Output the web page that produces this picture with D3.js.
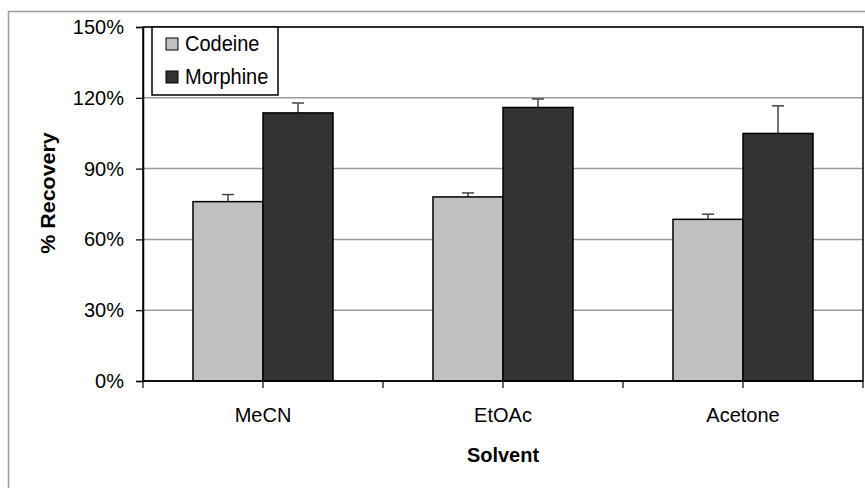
<!DOCTYPE html>
<html>
<head>
<meta charset="utf-8">
<script src="https://cdn.jsdelivr.net/npm/d3@7"></script>
<style>
  html, body { margin: 0; padding: 0; background: #fff; }
  svg { display: block; font-family: "Liberation Sans", Arial, sans-serif; }
</style>
</head>
<body>
<svg id="chart" width="865" height="488"></svg>
<script>
const categories = ["MeCN", "EtOAc", "Acetone"];
const seriesNames = ["Codeine", "Morphine"];
const codeine = [0.76, 0.78, 0.685];
const morphine = [1.136, 1.159, 1.049];
const codeineErr = [0.03, 0.017, 0.022];
const morphineErr = [0.042, 0.036, 0.117];
const yTicks = [0, 0.3, 0.6, 0.9, 1.2, 1.5];
const colors = ["#c0c0c0", "#333333"];

const svg = d3.select("#chart");
const W = 865, H = 488;
const plot = { left: 143, right: 863, top: 27, bottom: 381 };

// outer chart border
svg.append("rect").attr("x", 8.5).attr("y", 11.5).attr("width", W).attr("height", H)
  .attr("fill", "none").attr("stroke", "#9a9a9a").attr("stroke-width", 1.5);

const y = d3.scaleLinear().domain([0, 1.5]).range([plot.bottom, plot.top]);
const x0 = d3.scaleBand().domain(categories).range([plot.left, plot.right]).padding(0);
const x1 = d3.scaleBand().domain(seriesNames).range([0, x0.bandwidth()])
  .paddingInner(0).paddingOuter(0.714);

// gridlines
svg.append("g").selectAll("line").data(yTicks.filter(d => d > 0)).join("line")
  .attr("x1", plot.left).attr("x2", plot.right)
  .attr("y1", d => y(d)).attr("y2", d => y(d))
  .attr("stroke", "#9a9a9a").attr("stroke-width", 1.5);

// plot border (top/right)
svg.append("rect").attr("x", plot.left).attr("y", plot.top)
  .attr("width", plot.right - plot.left).attr("height", plot.bottom - plot.top)
  .attr("fill", "none").attr("stroke", "#000").attr("stroke-width", 1.5);

const data = categories.map((c, i) => ({
  cat: c,
  vals: [
    { s: "Codeine", v: codeine[i], e: codeineErr[i] },
    { s: "Morphine", v: morphine[i], e: morphineErr[i] }
  ]
}));

const groups = svg.append("g").selectAll("g").data(data).join("g")
  .attr("transform", d => `translate(${x0(d.cat)},0)`);

// error bars (upper only)
groups.selectAll("g.err").data(d => d.vals).join("g").attr("class", "err").each(function(d) {
  const g = d3.select(this);
  const cx = x1(d.s) + x1.bandwidth() / 2;
  g.append("line").attr("x1", cx).attr("x2", cx).attr("y1", y(d.v)).attr("y2", y(d.v + d.e))
    .attr("stroke", "#444").attr("stroke-width", 1.5);
  g.append("line").attr("x1", cx - 6).attr("x2", cx + 6).attr("y1", y(d.v + d.e)).attr("y2", y(d.v + d.e))
    .attr("stroke", "#444").attr("stroke-width", 1.5);
});

groups.selectAll("rect").data(d => d.vals).join("rect")
  .attr("x", d => x1(d.s)).attr("width", x1.bandwidth())
  .attr("y", d => y(d.v)).attr("height", d => y(0) - y(d.v))
  .attr("fill", (d, i) => colors[i]).attr("stroke", "#000").attr("stroke-width", 1.5);

// y axis
const yAxis = d3.axisLeft(y).tickValues(yTicks).tickFormat(d3.format(".0%")).tickSizeOuter(0).tickSize(7).tickPadding(12);
const ga = svg.append("g").attr("transform", `translate(${plot.left},0)`).call(yAxis);
ga.select(".domain").attr("stroke", "#000").attr("stroke-width", 1.5);
ga.selectAll(".tick line").attr("stroke", "#000").attr("stroke-width", 1.2);
ga.selectAll(".tick text").attr("font-size", 20).attr("fill", "#000")
  .attr("font-family", "'Liberation Sans', Arial, sans-serif");

// x axis baseline and ticks
const xt = d3.scaleLinear().domain([0, categories.length]).range([plot.left, plot.right]);
svg.append("line").attr("x1", plot.left).attr("x2", plot.right).attr("y1", y(0)).attr("y2", y(0))
  .attr("stroke", "#000").attr("stroke-width", 1.5);
const tickPos = d3.range(0, categories.length + 0.01, 0.5);
svg.append("g").selectAll("line").data(tickPos).join("line")
  .attr("x1", d => xt(d)).attr("x2", d => xt(d)).attr("y1", y(0)).attr("y2", y(0) + 7)
  .attr("stroke", "#000").attr("stroke-width", 1.2);
svg.append("g").selectAll("text").data(categories).join("text")
  .attr("x", d => x0(d) + x0.bandwidth() / 2).attr("y", 422)
  .attr("text-anchor", "middle").attr("font-size", 20).text(d => d);

// axis titles
svg.append("text").attr("x", 503).attr("y", 462).attr("text-anchor", "middle")
  .attr("font-size", 20).attr("font-weight", "bold").text("Solvent");
svg.append("text").attr("transform", "translate(55,193) rotate(-90) scale(1.07,1)")
  .attr("text-anchor", "middle").attr("font-size", 20).attr("font-weight", "bold").text("% Recovery");

// legend
const lg = svg.append("g");
lg.append("rect").attr("x", 152).attr("y", 27).attr("width", 126).attr("height", 68)
  .attr("fill", "#fff").attr("stroke", "#000").attr("stroke-width", 1.5);
seriesNames.forEach((s, i) => {
  const yy = 38 + i * 33;
  lg.append("rect").attr("x", 166).attr("y", yy).attr("width", 12).attr("height", 12)
    .attr("fill", colors[i]).attr("stroke", "#000").attr("stroke-width", 1);
  lg.append("text").attr("transform", `translate(185,${yy + 13}) scale(1,1.12)`)
    .attr("font-size", 20).text(s);
});
</script>
</body>
</html>
